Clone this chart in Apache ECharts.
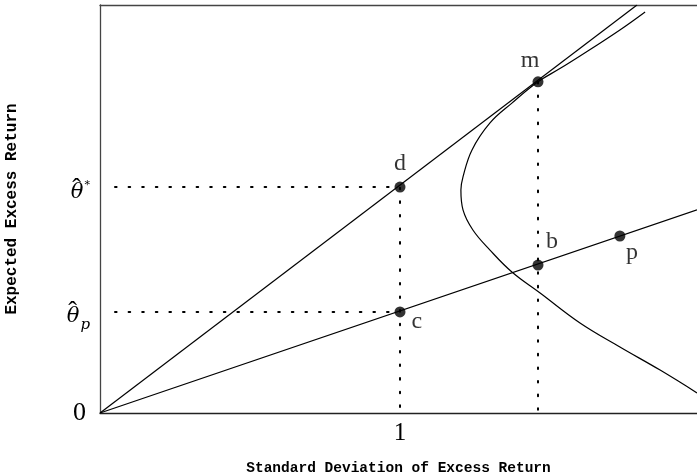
<!DOCTYPE html>
<html>
<head>
<meta http-equiv="Content-Type" content="text/html; charset=utf-8">
<title>Frontier</title>
<script src="https://cdn.jsdelivr.net/npm/echarts@6.0.0/dist/echarts.min.js"></script>
<style>
  html, body { margin: 0; padding: 0; background: #fff; }
  #main { width: 697px; height: 475px; }
</style>
</head>
<body>
<div id="main"></div>
<script type="text/javascript">
// x = standard deviation of excess return, y = expected excess return
var frontier = [
  [1.817, 1.337], [1.733, 1.277], [1.600, 1.190], [1.533, 1.148], [1.460, 1.104],
  [1.373, 1.033], [1.300, 0.967], [1.240, 0.877], [1.210, 0.787], [1.203, 0.743],
  [1.210, 0.677], [1.243, 0.610], [1.300, 0.543], [1.373, 0.470], [1.467, 0.400],
  [1.600, 0.300], [1.733, 0.220], [1.867, 0.143], [1.990, 0.067]
];
var tangentLine = [[0, 0], [1.79, 1.36]];
var portfolioLine = [[0, 0], [1.99, 0.677]];
var pointNames = ['d', 'c', 'm', 'b', 'p'];
var pointValues = [[1, 0.753], [1, 0.337], [1.46, 1.104], [1.46, 0.493], [1.733, 0.59]];
var guideD = [[0.05, 0.753], [1, 0.753], [1, 0]];
var guideC = [[0.05, 0.337], [1, 0.337]];
var guideM = [[1.46, 1.104], [1.46, 0]];
var yTickValues = [0, 0.337, 0.753];
var yTickLabels = ['{n|0}', '{t|θ}{sub|p}', '{t|θ}{sup|*}'];
var hatValues = [0.337, 0.753];
var hatLabels = ['{hp|ˆ}', '{hs|ˆ}'];
var xTickValues = [1];
var xTickLabels = ['1'];

var labelPos = {
  d: { position: 'top', distance: 6 },
  c: { position: 'right', distance: 6, offset: [0, 10] },
  m: { position: 'top', distance: 4, offset: [-8, 0] },
  b: { position: 'top', distance: 6, offset: [14, 0] },
  p: { position: 'bottom', distance: 2, offset: [12, -3] }
};

var pts = pointNames.map(function (n, i) {
  return { name: n, value: pointValues[i], label: labelPos[n] };
});

function dotted(data) {
  return {
    type: 'line', data: data, symbol: 'none', silent: true,
    lineStyle: { color: '#000', width: 2, type: [1.6, 12], cap: 'round' }
  };
}

var chart = echarts.init(document.getElementById('main'), null, { renderer: 'canvas' });
chart.setOption({
  animation: false,
  grid: { left: 100, top: 5, right: 0, bottom: 62, outerBoundsMode: 'none', containLabel: false },
  xAxis: [{
    type: 'value', min: 0, max: 1.99, position: 'bottom',
    splitLine: { show: false },
    axisLine: { lineStyle: { color: '#222', width: 1.3 } },
    axisTick: { show: false },
    axisLabel: {
      customValues: xTickValues, margin: 8, color: '#000',
      fontFamily: 'Liberation Serif', fontSize: 25,
      formatter: function (v) { return xTickLabels[xTickValues.indexOf(v)] || ''; }
    },
    name: 'Standard Deviation of Excess Return', nameLocation: 'middle', nameGap: 48,
    nameTextStyle: { fontFamily: 'Liberation Mono', fontWeight: 'bold', fontSize: 14.5, color: '#000' }
  }, {
    type: 'value', min: 0, max: 1.99, position: 'top',
    splitLine: { show: false },
    axisLine: { onZero: false, lineStyle: { color: '#444', width: 1.3 } },
    axisTick: { show: false }, axisLabel: { show: false }
  }],
  yAxis: [{
    type: 'value', min: 0, max: 1.36,
    splitLine: { show: false },
    axisLine: { show: true, lineStyle: { color: '#444', width: 1.3 } },
    axisTick: { show: false },
    axisLabel: {
      customValues: yTickValues, margin: 10, color: '#000',
      formatter: function (v) { return yTickLabels[yTickValues.indexOf(v)] || ''; },
      rich: {
        n: { fontFamily: 'Liberation Serif', fontSize: 26, color: '#000', padding: [0, 4, 0, 0] },
        t: { fontFamily: 'DejaVu Serif', fontStyle: 'italic', fontSize: 21, color: '#000', padding: [10, 0, 0, 0] },
        sub: { fontFamily: 'DejaVu Serif', fontStyle: 'italic', fontSize: 15, color: '#000', padding: [26, 0, 0, 1] },
        sup: { fontFamily: 'DejaVu Serif', fontSize: 11, color: '#000', padding: [0, 0, 4, 1] }
      }
    },
    name: 'Expected Excess Return', nameLocation: 'middle', nameGap: 80,
    nameTextStyle: { fontFamily: 'Liberation Mono', fontWeight: 'bold', fontSize: 16, color: '#000' }
  }, {
    type: 'value', min: 0, max: 1.36, position: 'left',
    splitLine: { show: false },
    axisLine: { show: false },
    axisTick: { show: false },
    axisLabel: {
      customValues: hatValues, color: '#000', margin: 17,
      formatter: function (v) { return hatLabels[hatValues.indexOf(v)] || ''; },
      rich: {
        hs: { fontFamily: 'Liberation Serif', fontSize: 26, color: '#000', padding: [4, 2, 0, 0] },
        hp: { fontFamily: 'Liberation Serif', fontSize: 26, color: '#000', padding: [0, 6, 0, 0] }
      }
    }
  }],
  series: [
    dotted(guideD), dotted(guideC), dotted(guideM),
    { type: 'line', data: tangentLine, symbol: 'none', silent: true,
      lineStyle: { color: '#000', width: 1.2 } },
    { type: 'line', data: portfolioLine, symbol: 'none', silent: true,
      lineStyle: { color: '#000', width: 1.2 } },
    { type: 'line', data: frontier, symbol: 'none', smooth: 0.4, silent: true,
      lineStyle: { color: '#000', width: 1.2 } },
    { type: 'scatter', data: pts, symbolSize: 11, silent: true, z: 5,
      itemStyle: { color: '#000' },
      label: { show: true, formatter: '{b}', color: '#000',
        fontFamily: 'Liberation Serif', fontSize: 24 } }
  ]
});
</script>
</body>
</html>
